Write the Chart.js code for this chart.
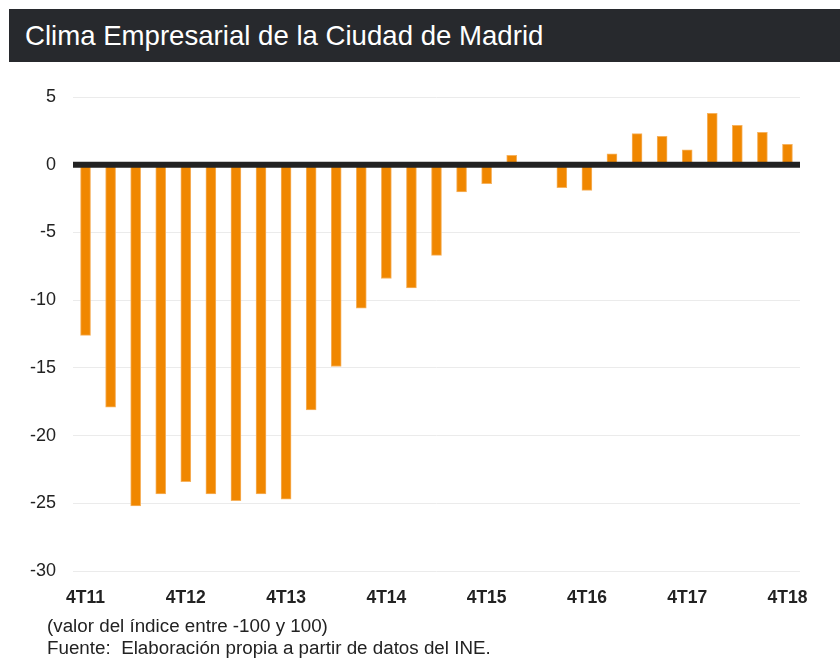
<!DOCTYPE html>
<html>
<head>
<meta charset="utf-8">
<script src="https://cdn.jsdelivr.net/npm/chart.js@4.4.1/dist/chart.umd.min.js"></script>
<style>
  html, body { margin: 0; padding: 0; background: #ffffff; }
  body { width: 840px; height: 658px; position: relative; overflow: hidden;
         font-family: "Liberation Sans", Arial, Helvetica, sans-serif; }
  #wrap { position: absolute; left: 0; top: 0; width: 840px; height: 658px; }
  #titlebar { position: absolute; left: 9px; top: 9px; width: 831px; height: 53px;
              background: #27292d; color: #ffffff; font-size: 27.6px; line-height: 53px;
              padding-left: 16px; box-sizing: border-box; white-space: nowrap; }
  .note { position: absolute; left: 47px; font-size: 18.8px; color: #222; white-space: nowrap; line-height: 22px; }
</style>
</head>
<body>
<div id="wrap"><canvas id="c"></canvas></div>
<div id="titlebar">Clima Empresarial de la Ciudad de Madrid</div>
<div class="note" style="top:615px">(valor del índice entre -100 y 100)</div>
<div class="note" style="top:637px">Fuente:&nbsp; Elaboración propia a partir de datos del INE.</div>
<script>
const quarters = ["4T11","1T12","2T12","3T12","4T12","1T13","2T13","3T13","4T13",
                  "1T14","2T14","3T14","4T14","1T15","2T15","3T15","4T15",
                  "1T16","2T16","3T16","4T16","1T17","2T17","3T17","4T17",
                  "1T18","2T18","3T18","4T18"];
const climaValues = [-12.6,-17.9,-25.2,-24.3,-23.4,-24.3,-24.8,-24.3,-24.7,
                     -18.1,-14.9,-10.6,-8.4,-9.1,-6.7,-2.0,-1.4,
                     0.7,0,-1.7,-1.9,0.8,2.3,2.1,1.1,
                     3.8,2.9,2.4,1.5];
const shownTickLabels = ["4T11","4T12","4T13","4T14","4T15","4T16","4T17","4T18"];
const yMin = -30, yMax = 5, yStep = 5;

const zeroLine = {
  id: 'zeroLine',
  afterDatasetsDraw(chart) {
    const y = chart.scales.y.getPixelForValue(0);
    const a = chart.chartArea;
    const ctx = chart.ctx;
    ctx.save();
    ctx.strokeStyle = '#222222';
    ctx.lineWidth = 6;
    ctx.beginPath();
    ctx.moveTo(a.left, y);
    ctx.lineTo(a.right, y);
    ctx.stroke();
    ctx.restore();
  }
};

new Chart(document.getElementById('c'), {
  type: 'bar',
  data: {
    labels: quarters,
    datasets: [{
      data: climaValues,
      backgroundColor: '#f08700',
      borderColor: '#f6b25e',
      borderWidth: 1,
      barThickness: 10
    }]
  },
  options: {
    responsive: true,
    maintainAspectRatio: false,
    animation: false,
    layout: { padding: { top: 97, right: 40, left: 0, bottom: 0 } },
    plugins: { legend: { display: false }, tooltip: { enabled: false } },
    scales: {
      x: {
        grid: { display: false, drawTicks: false },
        border: { display: false },
        ticks: {
          autoSkip: false, maxRotation: 0, padding: 17,
          color: '#222',
          font: { family: '"Liberation Sans", Arial, sans-serif', size: 17.5, weight: 'bold' },
          callback: function(v, i) {
            const l = quarters[i];
            return shownTickLabels.includes(l) ? l : '';
          }
        },
        afterFit(scale) { scale.height = 87; }
      },
      y: {
        min: yMin, max: yMax,
        grid: { color: '#ebebeb', lineWidth: 1, drawTicks: false },
        border: { display: false },
        ticks: {
          stepSize: yStep, padding: 17, color: '#222',
          font: { family: '"Liberation Sans", Arial, sans-serif', size: 18 }
        },
        afterFit(scale) { scale.width = 73; }
      }
    }
  },
  plugins: [zeroLine]
});
</script>
</body>
</html>
